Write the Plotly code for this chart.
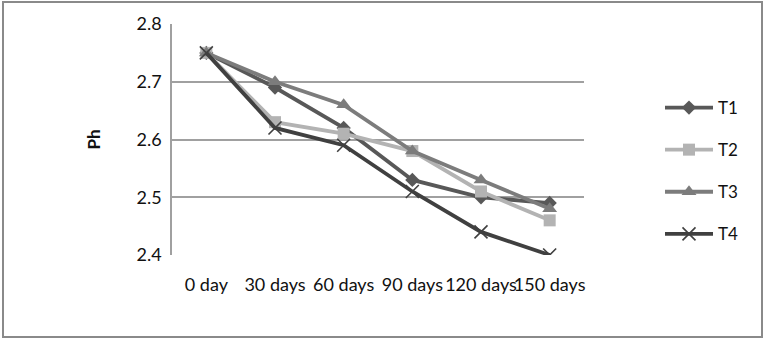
import plotly.graph_objects as go

# Storage time points and pH readings per treatment
days = ["0 day", "30 days", "60 days", "90 days", "120 days", "150 days"]
t1 = [2.75, 2.69, 2.62, 2.53, 2.50, 2.49]
t2 = [2.75, 2.63, 2.61, 2.58, 2.51, 2.46]
t3 = [2.75, 2.70, 2.66, 2.58, 2.53, 2.48]
t4 = [2.75, 2.62, 2.59, 2.51, 2.44, 2.40]

W, H = 768, 339
L, R, T, B = 172, 184, 24, 84
pw, ph = W - L - R, H - T - B

FONT = "Lato"

series = [
    ("T1", t1, "#585858", dict(symbol="diamond", size=11)),
    ("T2", t2, "#b3b3b3", dict(symbol="square", size=12)),
    ("T3", t3, "#7c7c7c", dict(symbol="triangle-up", size=13)),
    ("T4", t4, "#404040", dict(symbol="x-thin", size=13,
                               line=dict(width=1.6, color="#404040"))),
]

fig = go.Figure()
for name, vals, color, mk in series:
    fig.add_trace(go.Scatter(
        x=days, y=vals, name=name, mode="lines+markers",
        line=dict(color=color, width=3.8),
        marker=dict(color=color, **mk),
        legendgroup=name,
    ))

def px_x(v):
    return (v - L) / pw

def px_y(v):
    return (H - B - v) / ph

fig.update_layout(
    width=W, height=H,
    margin=dict(l=L, r=R, t=T, b=B),
    paper_bgcolor="white", plot_bgcolor="white",
    font=dict(family=FONT, color="#111111", size=17),
    showlegend=True,
    legend=dict(
        x=px_x(660), xanchor="left",
        y=px_y(90), yanchor="top",
        font=dict(size=17, color="#111111"),
        tracegroupgap=17,
        itemwidth=48,
        bgcolor="rgba(0,0,0,0)",
    ),
    xaxis=dict(
        type="category", range=[-0.5, 5.5],
        showgrid=False, showline=False, zeroline=False,
        tickangle=0, tickfont=dict(size=18, family=FONT),
        ticklabelstandoff=17,
    ),
    yaxis=dict(
        range=[2.4, 2.8], dtick=0.1, tickformat=".1f",
        showgrid=True, gridcolor="#a0a0a0", gridwidth=1.5,
        showline=True, linecolor="#a0a0a0", linewidth=1.5,
        zeroline=False,
        tickfont=dict(size=18, family=FONT),
        ticklabelstandoff=5,
        title=dict(text="<b>Ph</b>", font=dict(size=17, family=FONT),
                   standoff=32),
    ),
    shapes=[
        dict(type="rect", xref="paper", yref="paper",
             x0=px_x(3), x1=px_x(762), y0=px_y(337), y1=px_y(2),
             line=dict(color="#8a8a8a", width=2), layer="below"),
    ],
)

fig.write_html("out.html")
